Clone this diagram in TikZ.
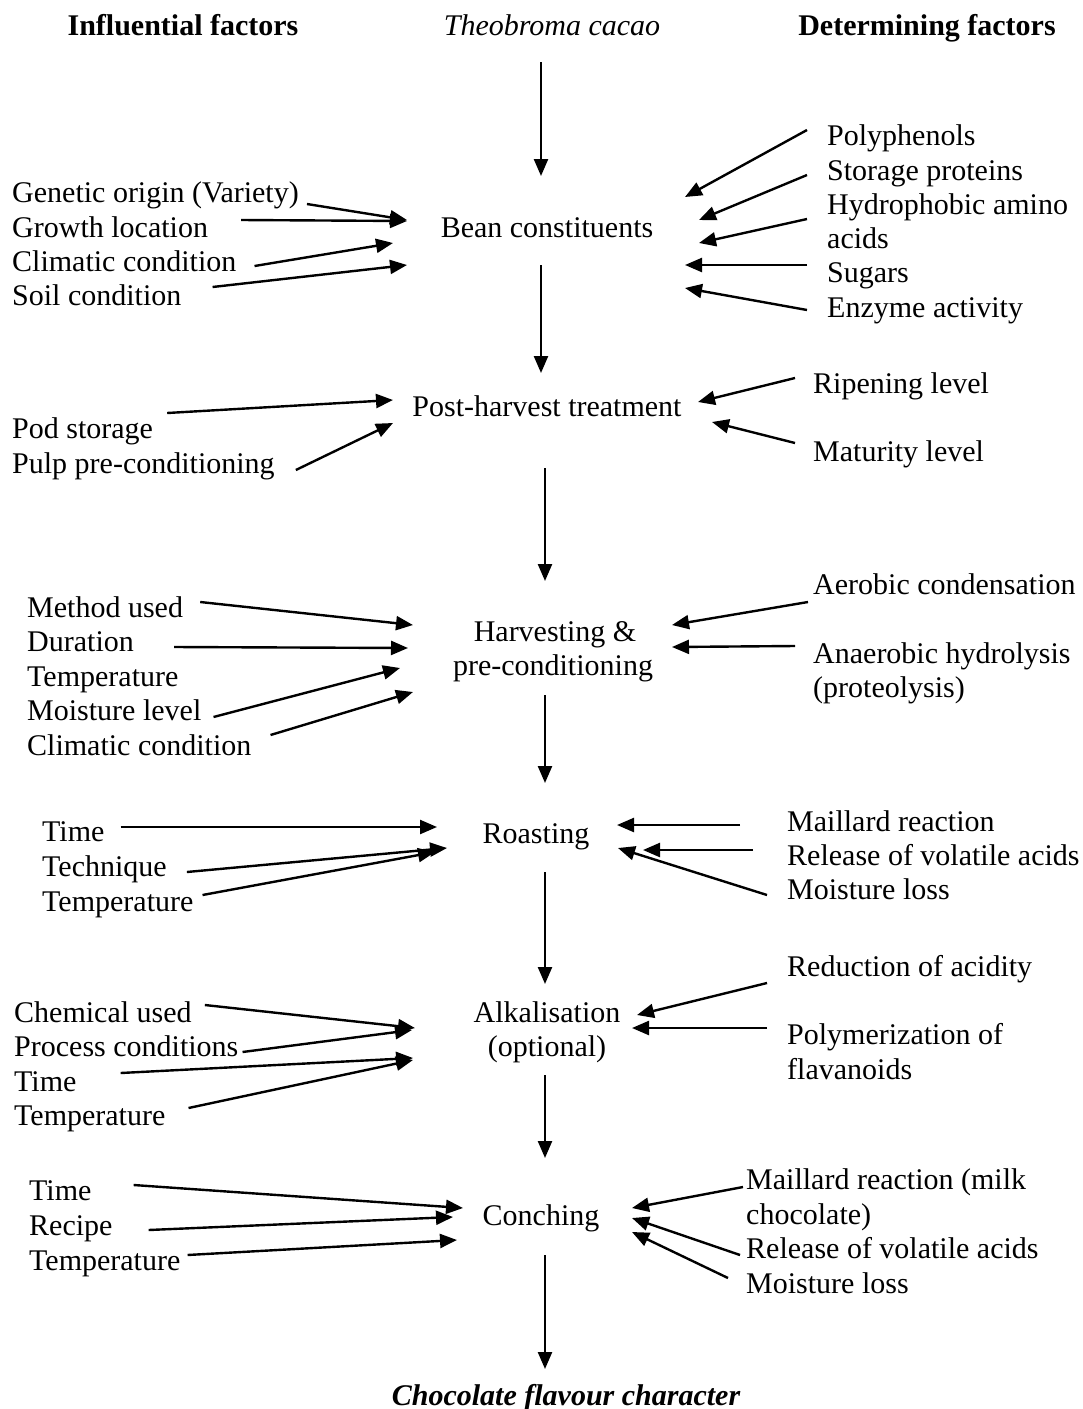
\documentclass[tikz,border=0pt]{standalone}
\usepackage{fontspec}
\setmainfont{Liberation Serif}
\usetikzlibrary{arrows.meta,calc}
\begin{document}
\begin{tikzpicture}[x=1pt,y=-1pt,
  font=\fontsize{30}{34.5}\selectfont,
  lbl/.style={anchor=west, inner sep=0pt, text height=20pt, text depth=0pt},
  rlbl/.style={anchor=west, inner sep=0pt, text height=20pt, text depth=0pt},
  mainnode/.style={anchor=center, inner sep=0pt, text height=20pt, text depth=0pt},
  hdr/.style={anchor=center, inner sep=0pt, text height=20pt, text depth=0pt, font=\fontsize{30}{34.5}\selectfont\bfseries},
  arr/.style={line width=2.4pt, -{Triangle[length=17pt,width=14pt]}}]
\useasboundingbox (0,0) rectangle (1083,1409);

% headers
\node[hdr] (hinf) at (183,25) {Influential factors};
\node[mainnode] (cacao) at (552,25) {\itshape Theobroma cacao};
\node[hdr] (hdet) at (927,25) {Determining factors};

% main column
\node[mainnode] (bean) at (547,227) {Bean constituents};
\node[mainnode] (post) at (547,406) {Post-harvest treatment};
\node[mainnode] (harv) at (555,631) {Harvesting \&};
\node[mainnode] (harvb) at (553,665) {pre-conditioning};
\node[mainnode] (roast) at (536,833) {Roasting};
\node[mainnode] (alk) at (547,1012) {Alkalisation};
\node[mainnode] (alkb) at (547,1046) {(optional)};
\node[mainnode] (conch) at (541,1215) {Conching};
\node[hdr] (choc) at (566,1395) {\itshape Chocolate flavour character};

% main vertical arrows
\coordinate (v1s) at (541,62);   \coordinate (v1e) at (541,176);
\coordinate (v2s) at (541,265);  \coordinate (v2e) at (541,373);
\coordinate (v3s) at (545,468);  \coordinate (v3e) at (545,581);
\coordinate (v4s) at (545,695);  \coordinate (v4e) at (545,783);
\coordinate (v5s) at (545,872);  \coordinate (v5e) at (545,984);
\coordinate (v6s) at (545,1075); \coordinate (v6e) at (545,1158);
\coordinate (v7s) at (545,1255); \coordinate (v7e) at (545,1369);
\foreach \i in {1,...,7} {\draw[arr] (v\i s) -- (v\i e);}

% ---------- Bean constituents ----------
\node[lbl] (gen) at (12,192) {Genetic origin (Variety)};
\node[lbl] (grow) at (12,227) {Growth location};
\node[lbl] (clim) at (12,261) {Climatic condition};
\node[lbl] (soil) at (12,295) {Soil condition};
\coordinate (t1) at (407,220);
\coordinate (t2) at (407,221);
\coordinate (t3) at (393,243);
\coordinate (t4) at (407,265);
\draw[arr] ([shift={(8,12)}]gen.east) -- (t1);
\draw[arr] ([shift={(33,-7)}]grow.east) -- (t2);
\draw[arr] ([shift={(18,5)}]clim.east) -- (t3);
\draw[arr] ([shift={(31,-8)}]soil.east) -- (t4);

\node[rlbl] (poly) at (827,135) {Polyphenols};
\node[rlbl] (stor) at (827,170) {Storage proteins};
\node[rlbl] (hydro) at (827,204) {Hydrophobic amino};
\node[rlbl] (hydrob) at (827,238) {acids};
\node[rlbl] (sug) at (827,272) {Sugars};
\node[rlbl] (enz) at (827,307) {Enzyme activity};
\coordinate (r1) at (685,197);
\coordinate (r2) at (699,220);
\coordinate (r3) at (699,243);
\coordinate (r4) at (685,265);
\coordinate (r5) at (685,288);
\draw[arr] ([shift={(-20,-5)}]poly.west) -- (r1);
\draw[arr] ([shift={(-20,5)}]stor.west) -- (r2);
\draw[arr] ([shift={(-20,15)}]hydro.west) -- (r3);
\draw[arr] ([shift={(-20,-7)}]sug.west) -- (r4);
\draw[arr] ([shift={(-20,3)}]enz.west) -- (r5);

% ---------- Post-harvest ----------
\node[lbl] (pod) at (12,428) {Pod storage};
\node[lbl] (pulp) at (12,463) {Pulp pre-conditioning};
\coordinate (t5) at (393,400);
\coordinate (t6) at (393,423);
\draw[arr] ([shift={(14,-15)}]pod.east) -- (t5);
\draw[arr] ([shift={(21,7)}]pulp.east) -- (t6);

\node[rlbl] (ripe) at (813,383) {Ripening level};
\node[rlbl] (mat) at (813,451) {Maturity level};
\coordinate (r6) at (698,402);
\coordinate (r7) at (712,422);
\draw[arr] ([shift={(-18,-5)}]ripe.west) -- (r6);
\draw[arr] ([shift={(-18,-8)}]mat.west) -- (r7);

% ---------- Harvesting ----------
\node[lbl] (meth) at (27,607) {Method used};
\node[lbl] (dur) at (27,641) {Duration};
\node[lbl] (htemp) at (27,676) {Temperature};
\node[lbl] (hmoist) at (27,710) {Moisture level};
\node[lbl] (hclim) at (27,745) {Climatic condition};
\coordinate (t7) at (413,625);
\coordinate (t8) at (408,648);
\coordinate (t9) at (400,668);
\coordinate (t10) at (413,692);
\draw[arr] ([shift={(17,-5)}]meth.east) -- (t7);
\draw[arr] ([shift={(40,6)}]dur.east) -- (t8);
\draw[arr] ([shift={(12,7)}]hmoist.east) -- (t9);
\draw[arr] ([shift={(19,-10)}]hclim.east) -- (t10);

\node[rlbl] (aer) at (813,584) {Aerobic condensation};
\node[rlbl] (anaer) at (813,653) {Anaerobic hydrolysis};
\node[rlbl] (anaerb) at (813,687) {(proteolysis)};
\coordinate (r8) at (672,625);
\coordinate (r9) at (672,647);
\draw[arr] ([shift={(-5,18)}]aer.west) -- (r8);
\draw[arr] ([shift={(-18,-7)}]anaer.west) -- (r9);

% ---------- Roasting ----------
\node[lbl] (rtime) at (42,831) {Time};
\node[lbl] (rtech) at (42,866) {Technique};
\node[lbl] (rtemp) at (42,901) {Temperature};
\coordinate (t11) at (437,827);
\coordinate (t12) at (447,848);
\coordinate (t13) at (435,852);
\draw[arr] ([shift={(16,-4)}]rtime.east) -- (t11);
\draw[arr] ([shift={(20,6)}]rtech.east) -- (t12);
\draw[arr] ([shift={(9,-6)}]rtemp.east) -- (t13);

\node[rlbl] (rmail) at (787,821) {Maillard reaction};
\node[rlbl] (rrel) at (787,855) {Release of volatile acids};
\node[rlbl] (rmoist) at (787,889) {Moisture loss};
\coordinate (r10) at (617,825);
\coordinate (r11) at (643,850);
\coordinate (r12) at (618,848);
\draw[arr] ([shift={(-47,4)}]rmail.west) -- (r10);
\draw[arr] ([shift={(-34,-5)}]rrel.west) -- (r11);
\draw[arr] ([shift={(-20,6)}]rmoist.west) -- (r12);

% ---------- Alkalisation ----------
\node[lbl] (achem) at (14,1012) {Chemical used};
\node[lbl] (aproc) at (14,1046) {Process conditions};
\node[lbl] (atime) at (14,1081) {Time};
\node[lbl] (atemp) at (14,1115) {Temperature};
\coordinate (t14) at (415,1028);
\coordinate (t15) at (412,1030);
\coordinate (t16) at (413,1058);
\coordinate (t17) at (413,1060);
\draw[arr] ([shift={(13,-7)}]achem.east) -- (t14);
\draw[arr] ([shift={(4,6)}]aproc.east) -- (t15);
\draw[arr] ([shift={(44,-8)}]atime.east) -- (t16);
\draw[arr] ([shift={(23,-7)}]atemp.east) -- (t17);

\node[rlbl] (ared) at (787,966) {Reduction of acidity};
\node[rlbl] (apoly) at (787,1034) {Polymerization of};
\node[rlbl] (apolyb) at (787,1069) {flavanoids};
\coordinate (r13) at (637,1015);
\coordinate (r14) at (632,1028);
\draw[arr] ([shift={(-20,17)}]ared.west) -- (r13);
\draw[arr] ([shift={(-20,-6)}]apoly.west) -- (r14);

% ---------- Conching ----------
\node[lbl] (ctime) at (29,1190) {Time};
\node[lbl] (crec) at (29,1225) {Recipe};
\node[lbl] (ctemp) at (29,1260) {Temperature};
\coordinate (t18) at (463,1208);
\coordinate (t19) at (453,1217);
\coordinate (t20) at (457,1240);
\draw[arr] ([shift={(42,-5)}]ctime.east) -- (t18);
\draw[arr] ([shift={(36,5)}]crec.east) -- (t19);
\draw[arr] ([shift={(7,-5)}]ctemp.east) -- (t20);

\node[rlbl] (cmail) at (746,1179) {Maillard reaction (milk};
\node[rlbl] (cmailb) at (746,1214) {chocolate)};
\node[rlbl] (crel) at (746,1248) {Release of volatile acids};
\node[rlbl] (cmoist) at (746,1283) {Moisture loss};
\coordinate (r15) at (632,1208);
\coordinate (r16) at (632,1218);
\coordinate (r17) at (632,1232);
\draw[arr] ([shift={(-3,8)}]cmail.west) -- (r15);
\draw[arr] ([shift={(-6,7)}]crel.west) -- (r16);
\draw[arr] ([shift={(-18,-5)}]cmoist.west) -- (r17);
\end{tikzpicture}
\end{document}
